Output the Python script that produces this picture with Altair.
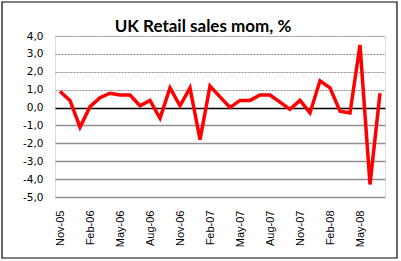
import altair as alt
import pandas as pd

months = ["Nov-05", "Dec-05",
          "Jan-06", "Feb-06", "Mar-06", "Apr-06", "May-06", "Jun-06",
          "Jul-06", "Aug-06", "Sep-06", "Oct-06", "Nov-06", "Dec-06",
          "Jan-07", "Feb-07", "Mar-07", "Apr-07", "May-07", "Jun-07",
          "Jul-07", "Aug-07", "Sep-07", "Oct-07", "Nov-07", "Dec-07",
          "Jan-08", "Feb-08", "Mar-08", "Apr-08", "May-08", "Jun-08", "Jul-08"]
values = [0.9, 0.4,
          -1.1, 0.05, 0.55, 0.8, 0.7, 0.7,
          0.1, 0.4, -0.6, 1.1, 0.1, 1.1,
          -1.8, 1.2, 0.6, 0.0, 0.4, 0.4,
          0.7, 0.7, 0.3, -0.1, 0.4, -0.3,
          1.5, 1.1, -0.2, -0.3, 3.5, -4.3, 0.8]
tick_labels = ["Nov-05", "Feb-06", "May-06", "Aug-06", "Nov-06", "Feb-07",
               "May-07", "Aug-07", "Nov-07", "Feb-08", "May-08"]
y_ticks = [-5, -4, -3, -2, -1, 0, 1, 2, 3, 4]

df = pd.DataFrame({"month": months, "value": values})

line = alt.Chart(df).mark_line(color="#FF0000", strokeWidth=3.5).encode(
    x=alt.X("month:O", sort=months, title=None,
            scale=alt.Scale(type="point", padding=0.5),
            axis=alt.Axis(values=tick_labels, labelAngle=-90, ticks=False,
                          domain=False, grid=False, labelFont="Liberation Sans",
                          labelFontSize=11, labelColor="black", labelPadding=13,
                          labelAlign="right", labelBaseline="middle")),
    y=alt.Y("value:Q", title=None,
            scale=alt.Scale(domain=[-5, 4], nice=False, zero=False),
            axis=alt.Axis(values=y_ticks, ticks=False, domain=False,
                          labelExpr="(datum.value < 0 ? '-' : '') + replace(format(abs(datum.value), '.1f'), '.', ',')",
                          labelFont="DejaVu Sans", labelFontSize=10.5,
                          labelColor="black", labelPadding=12,
                          grid=True,
                          gridColor={"condition": {"test": "datum.value == 0", "value": "black"},
                                     "value": "#909090"},
                          gridDash={"condition": {"test": "datum.value > 0", "value": [2, 1]},
                                    "value": []},
                          gridWidth={"condition": {"test": "datum.value > 0", "value": 1},
                                     "value": 1.3})),
)

border = alt.Chart(pd.DataFrame({"a": [0]})).mark_rect(
    fill=None, stroke="black", strokeWidth=1.2
).encode(
    x=alt.value(-53), x2=alt.value(342), y=alt.value(-34), y2=alt.value(222)
)

chart = alt.layer(line, border).properties(
    width=330, height=161,
    title=alt.TitleParams("UK Retail sales mom, %", font="Lato", fontSize=17,
                          fontWeight="bold", color="black", anchor="middle",
                          baseline="alphabetic", dx=-17, dy=57, offset=9),
    autosize=alt.AutoSizeParams(type="none"),
    padding={"left": 55, "top": 36, "right": 16, "bottom": 64},
).configure_view(stroke="black", strokeWidth=1.3).configure(background="white")

chart.save("out.html", embed_options={"renderer": "svg", "actions": False})
